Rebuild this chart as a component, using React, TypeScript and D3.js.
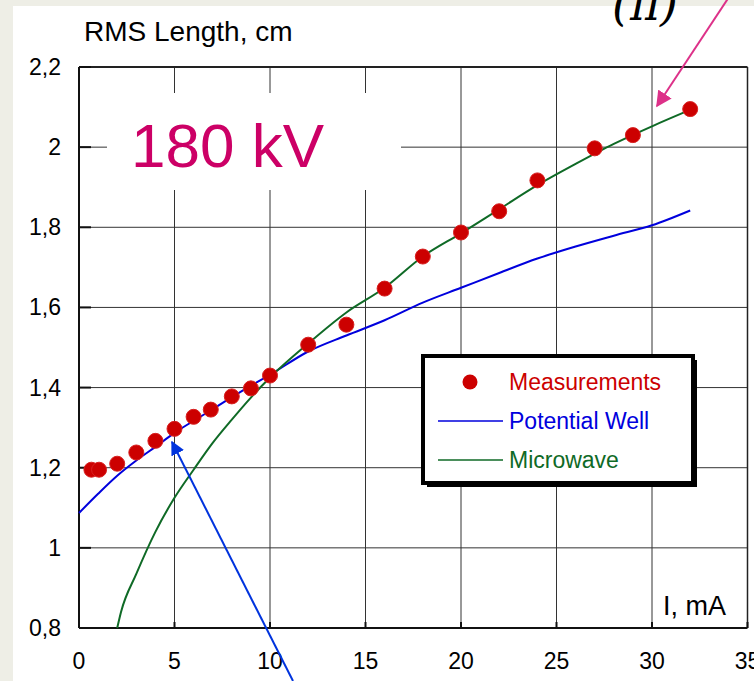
import React from 'react'
import * as d3 from 'd3'

// measured RMS bunch length vs beam current
const measI = [0.65, 1.05, 2, 3, 4, 5, 6, 6.9, 8, 9, 10, 12, 14, 16, 18, 20, 22, 24, 27, 29, 32]
const measRms = [1.195, 1.195, 1.21, 1.238, 1.267, 1.297, 1.327, 1.345, 1.378, 1.398, 1.43, 1.507, 1.557, 1.647, 1.727, 1.787, 1.84, 1.917, 1.997, 2.03, 2.095]

// potential well model
const wellI = [0, 1, 2, 3, 4, 5, 6, 7, 8, 9, 10, 12, 14, 16, 18, 20, 22, 24, 26, 28, 30, 32]
const wellRms = [1.087, 1.135, 1.18, 1.218, 1.252, 1.287, 1.317, 1.346, 1.376, 1.405, 1.432, 1.49, 1.53, 1.568, 1.612, 1.649, 1.686, 1.722, 1.752, 1.779, 1.805, 1.842]

// microwave model
const waveI = [2, 2.2, 3, 4, 5, 6, 7, 8, 9, 10, 12, 14, 16, 18, 20, 22, 24, 26, 28, 30, 32]
const waveRms = [0.8, 0.84, 0.935, 1.04, 1.125, 1.195, 1.262, 1.32, 1.375, 1.425, 1.51, 1.5875, 1.649, 1.727, 1.785, 1.845, 1.905, 1.958, 2.008, 2.052, 2.093]

const xTicks = [0, 5, 10, 15, 20, 25, 30, 35]
const yTicks = [0.8, 1, 1.2, 1.4, 1.6, 1.8, 2, 2.2]
const yTickLabels = ['0,8', '1', '1,2', '1,4', '1,6', '1,8', '2', '2,2']

const legendNames = ['Measurements', 'Potential Well', 'Microwave']

const W = 754
const H = 681
const font = 'Liberation Sans, Arial, sans-serif'
const red = '#cc0000'
const blue = '#0000dd'
const green = '#0f6a26'
const pink = '#dd3189'

const App = () => {
  const x = d3.scaleLinear().domain([0, 35]).range([79, 747.5])
  const y = d3.scaleLinear().domain([0.8, 2.2]).range([628, 67])

  const line = d3
    .line<[number, number]>()
    .x((d) => x(d[0]))
    .y((d) => y(d[1]))
    .curve(d3.curveMonotoneX)

  const wellPts = wellI.map((v, i) => [v, wellRms[i]] as [number, number])
  const wavePts = waveI.map((v, i) => [v, waveRms[i]] as [number, number])

  const lx = 423
  const ly = 356
  const lw = 270
  const lh = 127
  const rowY = [382, 421, 460]

  return (
    <div style={{ position: 'absolute', left: 0, top: 0, width: W, height: H }}>
      <svg width={W} height={H} style={{ display: 'block' }}>
        <defs>
          <marker id="headBlue" viewBox="0 0 10 10" refX="9" refY="5" markerWidth="7" markerHeight="7" markerUnits="strokeWidth" orient="auto">
            <path d="M0,0 L10,5 L0,10 z" fill="#0033dd" />
          </marker>
          <marker id="headPink" viewBox="0 0 10 10" refX="9" refY="5" markerWidth="8" markerHeight="8" markerUnits="strokeWidth" orient="auto">
            <path d="M0,0 L10,5 L0,10 z" fill={pink} />
          </marker>
        </defs>

        <rect x={0} y={0} width={W} height={H} fill="#eeeee6" />
        <rect x={13} y={6} width={W - 13} height={H - 6} fill="#ffffff" />

        {/* grid */}
        {xTicks.slice(1, -1).map((t) => (
          <line key={'gx' + t} x1={x(t)} x2={x(t)} y1={y(2.2)} y2={y(0.8)} stroke="#333" strokeWidth={1} />
        ))}
        {yTicks.slice(1, -1).map((t) => (
          <line key={'gy' + t} x1={x(0)} x2={x(35)} y1={y(t)} y2={y(t)} stroke="#333" strokeWidth={1} />
        ))}

        {/* white box behind the voltage label */}
        <rect x={107} y={93} width={294} height={97} fill="#ffffff" />
        <text x={131} y={167} fontFamily={font} fontSize={62} fill="#cc0066">180 kV</text>

        {/* frame */}
        <line x1={x(0)} x2={x(35)} y1={y(2.2)} y2={y(2.2)} stroke="#222" strokeWidth={2} />
        <line x1={x(0)} x2={x(35)} y1={y(0.8)} y2={y(0.8)} stroke="#111" strokeWidth={2} />
        <line x1={x(0)} x2={x(0)} y1={y(2.2)} y2={y(0.8)} stroke="#111" strokeWidth={2} />
        <line x1={x(35)} x2={x(35)} y1={y(2.2)} y2={y(0.8)} stroke="#222" strokeWidth={1.5} />
        {xTicks.map((t) => (
          <line key={'tx' + t} x1={x(t)} x2={x(t)} y1={y(0.8)} y2={y(0.8) - 6} stroke="#111" strokeWidth={2} />
        ))}
        {yTicks.map((t) => (
          <line key={'ty' + t} x1={x(0)} x2={x(0) + 12} y1={y(t)} y2={y(t)} stroke="#111" strokeWidth={2} />
        ))}

        {/* tick labels */}
        {xTicks.map((t) => (
          <text key={'lx' + t} x={x(t)} y={669} textAnchor="middle" fontFamily={font} fontSize={23} fill="#000">{t}</text>
        ))}
        {yTicks.map((t, i) => (
          <text key={'ly' + t} x={61} y={y(t) + 8} textAnchor="end" fontFamily={font} fontSize={23} fill="#000">{yTickLabels[i]}</text>
        ))}

        <text x={84} y={41} fontFamily={font} fontSize={28} fill="#000">RMS Length, cm</text>
        <text x={663} y={615} fontFamily={font} fontSize={27} fill="#000">I, mA</text>

        {/* model curves */}
        <path d={line(wellPts) || ''} fill="none" stroke={blue} strokeWidth={2} />
        <path d={line(wavePts) || ''} fill="none" stroke={green} strokeWidth={2} />

        {/* measurements */}
        {measI.map((v, i) => (
          <circle key={'m' + i} cx={x(v)} cy={y(measRms[i])} r={7.5} fill={red} stroke="#d82020" strokeWidth={1} />
        ))}

        {/* legend */}
        <rect x={lx + 4} y={ly + 4} width={lw} height={lh} fill="#000" />
        <rect x={lx} y={ly} width={lw} height={lh} fill="#fff" stroke="#000" strokeWidth={4} />
        <circle cx={470} cy={rowY[0]} r={7.5} fill={red} />
        <line x1={438} x2={503} y1={rowY[1]} y2={rowY[1]} stroke={blue} strokeWidth={1.5} />
        <line x1={438} x2={503} y1={rowY[2]} y2={rowY[2]} stroke={green} strokeWidth={1.5} />
        <text x={509} y={rowY[0] + 8} fontFamily={font} fontSize={23} fill={red}>{legendNames[0]}</text>
        <text x={509} y={rowY[1] + 8} fontFamily={font} fontSize={23} fill={blue}>{legendNames[1]}</text>
        <text x={509} y={rowY[2] + 8} fontFamily={font} fontSize={23} fill={green}>{legendNames[2]}</text>

        {/* annotations */}
        <line x1={293} y1={681} x2={172} y2={442} stroke="#0033dd" strokeWidth={2} markerEnd="url(#headBlue)" />
        <line x1={729} y1={-3} x2={657} y2={106} stroke={pink} strokeWidth={2} markerEnd="url(#headPink)" />
        <text x={645} y={20} textAnchor="middle" fontFamily="DejaVu Serif, serif" fontStyle="italic" fontSize={46} fill="#000">(π)</text>
      </svg>
    </div>
  )
}

export default App
